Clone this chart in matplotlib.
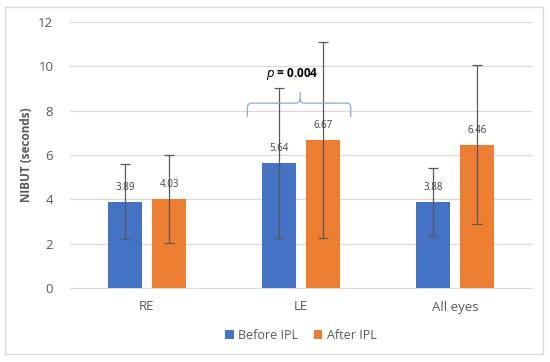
import matplotlib
matplotlib.use("Agg")
import matplotlib.pyplot as plt
from matplotlib.patches import Rectangle, PathPatch
from matplotlib.path import Path
import numpy as np

categories = ["RE", "LE", "All eyes"]
before_vals = [3.89, 5.64, 3.88]
after_vals = [4.03, 6.67, 6.46]
before_sd = [1.70, 3.38, 1.53]
after_sd = [1.98, 4.43, 3.58]
series_names = ["Before IPL", "After IPL"]
yticks = [0, 2, 4, 6, 8, 10, 12]

plt.rcParams['font.family'] = ['Open Sans', 'DejaVu Sans']
blue = "#4472C4"
orange = "#ED7D31"
txt = "#595959"

fig = plt.figure(figsize=(5.5, 3.62), dpi=100)
fig.patches.append(Rectangle((5/550, 1-354/362), 538/550, 347/362, transform=fig.transFigure,
                             fill=False, edgecolor="#D9D9D9", linewidth=1))
ax = fig.add_axes([70/550, 1-288/362, 462/550, 266/362])

x = np.arange(len(categories))
w = 0.22
off = 0.143
ax.bar(x - off, before_vals, w, color=blue, label=series_names[0], zorder=2)
ax.bar(x + off, after_vals, w, color=orange, label=series_names[1], zorder=2)
ax.errorbar(x - off, before_vals, yerr=before_sd, fmt="none", ecolor="#595959",
            elinewidth=0.9, capsize=3.5, capthick=0.9, zorder=3)
ax.errorbar(x + off, after_vals, yerr=after_sd, fmt="none", ecolor="#595959",
            elinewidth=0.9, capsize=3.5, capthick=0.9, zorder=3)

for xs, vals in [(x - off, before_vals), (x + off, after_vals)]:
    for xi, v in zip(xs, vals):
        ax.annotate(f"{v:.2f}", (xi, v), xytext=(0, 6.5), textcoords="offset points",
                    ha="center", va="bottom", fontsize=7, color="#404040", zorder=4)

ax.set_xlim(-0.5, 2.5)
ax.set_ylim(0, 12)
ax.set_yticks(yticks)
ax.set_yticklabels([str(t) for t in yticks])
ax.set_xticks(x)
ax.set_xticklabels(categories)
ax.tick_params(axis="both", length=0, colors=txt, labelsize=9.5)
ax.tick_params(axis="x", pad=9)
ax.tick_params(axis="y", pad=12)
ax.yaxis.grid(True, color="#D9D9D9", linewidth=0.9, zorder=0)
ax.set_axisbelow(True)
for s in ["top", "right", "left"]:
    ax.spines[s].set_visible(False)
ax.spines["bottom"].set_color("#D9D9D9")
ax.set_ylabel("NIBUT (seconds)", fontsize=8.5, fontweight="bold", color=txt, labelpad=4)

# curly brace for p-value
L, R, C = x[1] - off - 0.205, x[1] + off + 0.18, x[1] - 0.005
yb, yl, yt = 7.71, 8.34, 8.84
rx, ry = 0.026, 0.22
verts = [(L, yb), (L, yl - ry), (L, yl), (L + rx, yl), (C - rx, yl), (C, yl), (C, yl + ry),
         (C, yt), (C, yl + ry), (C, yl), (C + rx, yl), (R - rx, yl), (R, yl), (R, yl - ry), (R, yb)]
codes = [Path.MOVETO, Path.LINETO, Path.CURVE3, Path.CURVE3, Path.LINETO, Path.CURVE3, Path.CURVE3,
         Path.LINETO, Path.MOVETO, Path.CURVE3, Path.CURVE3, Path.LINETO, Path.CURVE3, Path.CURVE3,
         Path.LINETO]
ax.add_patch(PathPatch(Path(verts, codes), fill=False, edgecolor="#8FAADC", linewidth=0.9, zorder=4))
ax.text(x[1] - 0.06, 9.65, r"$\bf{\it{p}}$" + " = 0.004", ha="center", va="center",
        fontsize=8.5, fontweight="bold", color="#000000")

leg = ax.legend(loc="center", bbox_to_anchor=(0.5, -0.177), ncol=2, frameon=False,
                fontsize=9, handlelength=0.7, handleheight=0.7, columnspacing=1.2,
                handletextpad=0.4)
for t in leg.get_texts():
    t.set_color(txt)

fig.savefig("out.png", dpi=100)
